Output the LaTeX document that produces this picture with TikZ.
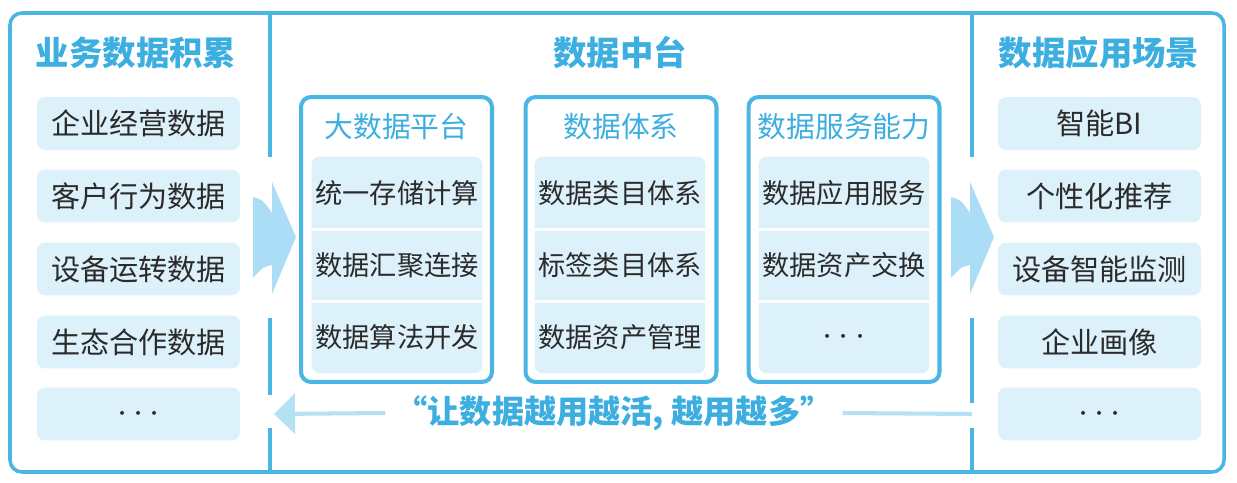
\documentclass[tikz,border=0pt]{standalone}
\usepackage{fontspec}
\setmainfont{Noto Sans CJK SC}
\usepackage{tikz}
\usetikzlibrary{positioning, calc, arrows.meta}

\definecolor{framec}{HTML}{4AB6E3}
\definecolor{titlec}{HTML}{3DAEE0}
\definecolor{boxc}{HTML}{DDF1FB}
\definecolor{chevc}{HTML}{ABDDF6}
\definecolor{backc}{HTML}{B5E1F5}
\definecolor{textc}{HTML}{2B2B2B}

\tikzset{
  frame/.style={draw=framec,line width=2pt},
  coltitle/.style={text=titlec,font=\fontsize{19}{22}\selectfont\bfseries,inner sep=0pt},
  ptitle/.style={text=titlec,font=\fontsize{16.4}{19}\selectfont,inner sep=0pt},
  itembox/.style={fill=boxc,rounded corners=0.16cm,minimum width=4.06cm,minimum height=1.06cm,
    text=textc,font=\fontsize{16.6}{19}\selectfont,inner sep=0pt},
  panel/.style={draw=framec,line width=2.3pt,rounded corners=0.2cm,minimum width=3.82cm,minimum height=5.7cm},
  cell/.style={minimum width=3.4cm,minimum height=1.44cm,text=textc,font=\fontsize{15.5}{18}\selectfont,inner sep=0pt},
  sep/.style={draw=white,line width=1.7pt},
  backline/.style={draw=backc,line width=2.3pt},
  chevron/.pic={
    \fill[chevc] (0,-55) -- (24,0) -- (0,57) -- (0,28) .. controls (-9,30) .. (-19,41)
      -- (-19,-40) .. controls (-9,-37) .. (0,-24) -- cycle;
  }
}
\newcommand{\moredots}{{\fontsize{21}{22}\selectfont$\cdots$}}

\begin{document}
\begin{tikzpicture}[x=0.02cm,y=-0.02cm]
  \useasboundingbox (0,0) rectangle (1237,483);
  \draw[frame,rounded corners=0.24cm] (10,13) rectangle (1224,472);%外框
  % 分隔线
  \draw[frame] (270,13) -- (270,157) (270,318) -- (270,395) (270,428) -- (270,472);
  \draw[frame] (972,13) -- (972,157) (972,318) -- (972,403) (972,428) -- (972,472);

  % 左列
  \node[coltitle] (ltitle) at (136,53) {业务数据积累};
  \node[itembox] (l1) at (138.5,123.5) {企业经营数据};
  \node[itembox] (l2) at (138.5,196) {客户行为数据};
  \node[itembox] (l3) at (138.5,269) {设备运转数据};
  \node[itembox] (l4) at (138.5,342) {生态合作数据};
  \node[itembox] (l5) at (138.5,414) {\moredots};

  % 中台
  \node[coltitle] (mtitle) at (620,53) {数据中台};
  \node[panel] (p1) at (396.5,239.5) {};
  \node[panel] (p2) at (621,239.5) {};
  \node[panel] (p3) at (844,239.5) {};
  \node[ptitle] (p1t) at (396.5,127) {大数据平台};
  \node[ptitle] (p2t) at (621,127) {数据体系};
  \node[ptitle] (p3t) at (844,127) {数据服务能力};

  \node[cell] (a1) at (397,193) {};
  \node[cell] (a2) at (397,265) {};
  \node[cell] (a3) at (397,337) {};
  \node[cell] (b1) at (620,193) {};
  \node[cell] (b2) at (620,265) {};
  \node[cell] (b3) at (620,337) {};
  \node[cell] (c1) at (844,193) {};
  \node[cell] (c2) at (844,265) {};
  \node[cell] (c3) at (844,337) {};
  \fill[boxc,rounded corners=0.16cm] (a1.north west) rectangle (a3.south east);
  \fill[boxc,rounded corners=0.16cm] (b1.north west) rectangle (b3.south east);
  \fill[boxc,rounded corners=0.16cm] (c1.north west) rectangle (c3.south east);
  \draw[sep] (a1.south west) -- (a1.south east) (a2.south west) -- (a2.south east);
  \draw[sep] (b1.south west) -- (b1.south east) (b2.south west) -- (b2.south east);
  \draw[sep] (c1.south west) -- (c1.south east) (c2.south west) -- (c2.south east);
  \node[cell] at (a1) {统一存储计算};
  \node[cell] at (a2) {数据汇聚连接};
  \node[cell] at (a3) {数据算法开发};
  \node[cell] at (b1) {数据类目体系};
  \node[cell] at (b2) {标签类目体系};
  \node[cell] at (b3) {数据资产管理};
  \node[cell] at (c1) {数据应用服务};
  \node[cell] at (c2) {数据资产交换};
  \node[cell] at (c3) {\moredots};

  % 右列
  \node[coltitle] (rtitle) at (1099,53) {数据应用场景};
  \node[itembox] (r1) at (1099.5,123.5) {智能BI};
  \node[itembox] (r2) at (1099.5,196) {个性化推荐};
  \node[itembox] (r3) at (1099.5,269) {设备智能监测};
  \node[itembox] (r4) at (1099.5,342) {企业画像};
  \node[itembox] (r5) at (1099.5,414) {\moredots};

  % 大箭头
  \pic at (272,237) {chevron};
  \pic at (970,237) {chevron};

  % 反馈箭头
  \node[text=titlec,font=\fontsize{18.3}{21}\selectfont\bfseries,inner xsep=0.2cm] (slogan) at (614,413)
    {“让数据越用越活, 越用越多”};
  \coordinate (tipL) at (274,414);
  \coordinate (endR) at (972,414);
  \draw[backline,-{Triangle[length=0.42cm,width=0.8cm]}] (slogan.west) -- (tipL);
  \draw[backline] (slogan.east) -- (endR);
\end{tikzpicture}
\end{document}
